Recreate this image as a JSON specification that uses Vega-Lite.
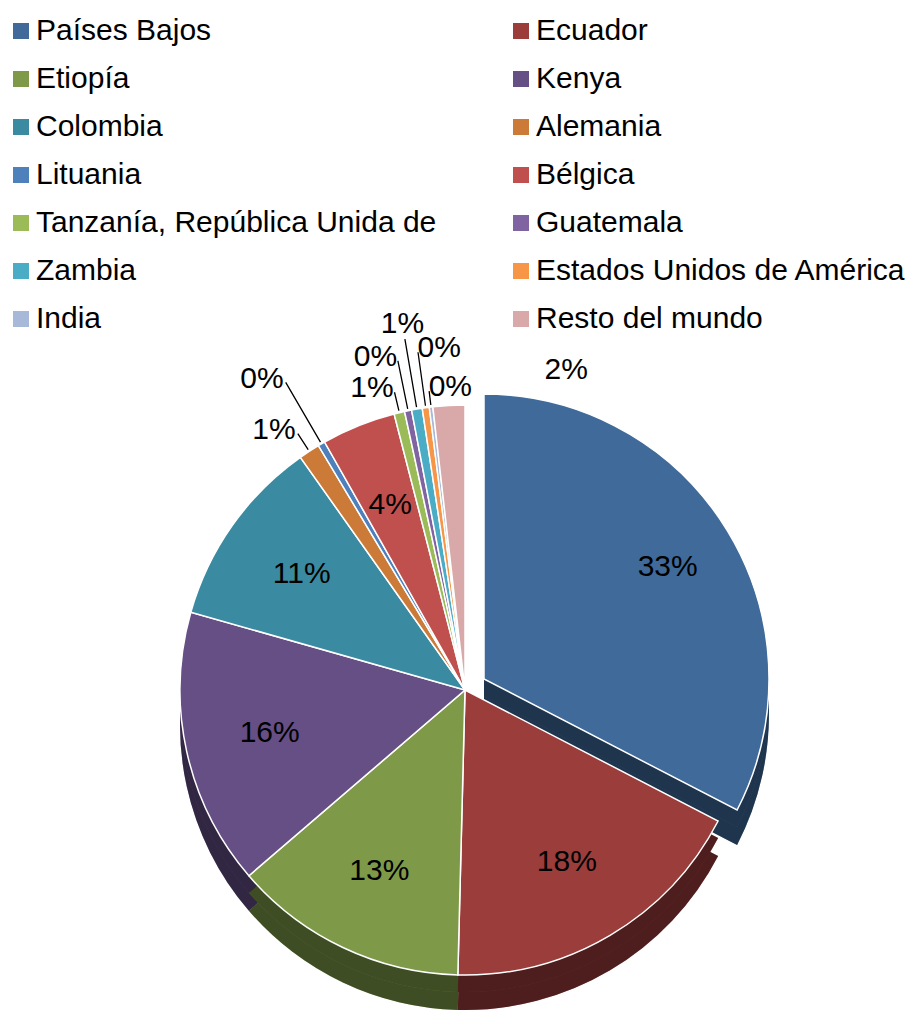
{
  "$schema": "https://vega.github.io/schema/vega-lite/v6.json",
  "width": 917,
  "height": 1017,
  "autosize": "none",
  "padding": 0,
  "background": "white",
  "config": {"view": {"stroke": null}, "font": "Liberation Sans"},
  "data": {
    "values": [
      {"country": "Países Bajos", "value": 32.6, "label": "33%"},
      {"country": "Ecuador", "value": 17.8, "label": "18%"},
      {"country": "Etiopía", "value": 13.3, "label": "13%"},
      {"country": "Kenya", "value": 15.7, "label": "16%"},
      {"country": "Colombia", "value": 10.8, "label": "11%"},
      {"country": "Alemania", "value": 1.2, "label": "1%"},
      {"country": "Lituania", "value": 0.4, "label": "0%"},
      {"country": "Bélgica", "value": 4.2, "label": "4%"},
      {"country": "Tanzanía, República Unida de", "value": 0.6, "label": "1%"},
      {"country": "Guatemala", "value": 0.4, "label": "0%"},
      {"country": "Zambia", "value": 0.6, "label": "1%"},
      {"country": "Estados Unidos de América", "value": 0.4, "label": "0%"},
      {"country": "India", "value": 0.2, "label": "0%"},
      {"country": "Resto del mundo", "value": 1.8, "label": "2%"}
    ]
  },
  "transform": [{"window": [{"op": "row_number", "as": "rank"}]}],
  "layer": [
    {
      "mark": {"type": "arc", "x": 484, "y": 714, "radius": 285},
      "encoding": {
        "theta": {"field": "value", "type": "quantitative", "stack": true},
        "order": {"field": "rank", "type": "quantitative"},
        "color": {
          "field": "country", "type": "nominal",
          "scale": {
            "domain": ["Países Bajos", "Ecuador", "Etiopía", "Kenya", "Colombia", "Alemania", "Lituania", "Bélgica", "Tanzanía, República Unida de", "Guatemala", "Zambia", "Estados Unidos de América", "India", "Resto del mundo"],
            "range": ["#3F6A9A", "#9B3D3B", "#7E9A48", "#654F85", "#3A8BA1", "#CC7A38", "#4E80BC", "#C0504D", "#9BBB59", "#8064A2", "#4BACC6", "#F79646", "#A7B8D8", "#D9A8A8"]
          },
          "legend": {
            "title": null, "orient": "none", "legendX": 6, "legendY": 16, "columns": 2, "direction": "horizontal",
            "symbolType": "square", "symbolSize": 256, "symbolStrokeWidth": 0, "symbolOpacity": 1,
            "labelFont": "Liberation Sans", "labelFontSize": 30, "labelColor": "black", "labelLimit": 600,
            "labelOffset": 0, "rowPadding": 18, "columnPadding": 69, "padding": 0
          }
        },
        "opacity": {"condition": {"test": "datum.country == 'Países Bajos'", "value": 1}, "value": 0}
      }
    },
    {
      "mark": {"type": "arc", "x": 484, "y": 714, "radius": 285, "fill": "black", "fillOpacity": 0.5},
      "encoding": {
        "theta": {"field": "value", "type": "quantitative", "stack": true},
        "order": {"field": "rank", "type": "quantitative"},
        "detail": {"field": "country"},
        "opacity": {"condition": {"test": "datum.country == 'Países Bajos'", "value": 1}, "value": 0}
      }
    },
    {
      "mark": {"type": "arc", "x": 484, "y": 696, "radius": 285},
      "encoding": {
        "theta": {"field": "value", "type": "quantitative", "stack": true},
        "order": {"field": "rank", "type": "quantitative"},
        "color": {"field": "country", "type": "nominal"},
        "opacity": {"condition": {"test": "datum.country == 'Países Bajos'", "value": 1}, "value": 0}
      }
    },
    {
      "mark": {"type": "arc", "x": 484, "y": 696, "radius": 285, "fill": "black", "fillOpacity": 0.5},
      "encoding": {
        "theta": {"field": "value", "type": "quantitative", "stack": true},
        "order": {"field": "rank", "type": "quantitative"},
        "detail": {"field": "country"},
        "opacity": {"condition": {"test": "datum.country == 'Países Bajos'", "value": 1}, "value": 0}
      }
    },
    {
      "mark": {"type": "arc", "x": 484, "y": 679, "radius": 285, "stroke": "white", "strokeWidth": 1.5},
      "encoding": {
        "theta": {"field": "value", "type": "quantitative", "stack": true},
        "order": {"field": "rank", "type": "quantitative"},
        "color": {"field": "country", "type": "nominal"},
        "opacity": {"condition": {"test": "datum.country == 'Países Bajos'", "value": 1}, "value": 0}
      }
    },
    {
      "mark": {"type": "arc", "x": 465, "y": 725, "radius": 285},
      "encoding": {
        "theta": {"field": "value", "type": "quantitative", "stack": true},
        "order": {"field": "rank", "type": "quantitative"},
        "color": {"field": "country", "type": "nominal"},
        "opacity": {"condition": {"test": "datum.country == 'Países Bajos'", "value": 0}, "value": 1}
      }
    },
    {
      "mark": {"type": "arc", "x": 465, "y": 725, "radius": 285, "fill": "black", "fillOpacity": 0.5},
      "encoding": {
        "theta": {"field": "value", "type": "quantitative", "stack": true},
        "order": {"field": "rank", "type": "quantitative"},
        "detail": {"field": "country"},
        "opacity": {"condition": {"test": "datum.country == 'Países Bajos'", "value": 0}, "value": 1}
      }
    },
    {
      "mark": {"type": "arc", "x": 465, "y": 707, "radius": 285},
      "encoding": {
        "theta": {"field": "value", "type": "quantitative", "stack": true},
        "order": {"field": "rank", "type": "quantitative"},
        "color": {"field": "country", "type": "nominal"},
        "opacity": {"condition": {"test": "datum.country == 'Países Bajos'", "value": 0}, "value": 1}
      }
    },
    {
      "mark": {"type": "arc", "x": 465, "y": 707, "radius": 285, "fill": "black", "fillOpacity": 0.5},
      "encoding": {
        "theta": {"field": "value", "type": "quantitative", "stack": true},
        "order": {"field": "rank", "type": "quantitative"},
        "detail": {"field": "country"},
        "opacity": {"condition": {"test": "datum.country == 'Países Bajos'", "value": 0}, "value": 1}
      }
    },
    {
      "mark": {"type": "arc", "x": 465, "y": 690, "radius": 285, "stroke": "white", "strokeWidth": 1.5},
      "encoding": {
        "theta": {"field": "value", "type": "quantitative", "stack": true},
        "order": {"field": "rank", "type": "quantitative"},
        "color": {"field": "country", "type": "nominal"},
        "opacity": {"condition": {"test": "datum.country == 'Países Bajos'", "value": 0}, "value": 1}
      }
    },
    {
      "mark": {"type": "text", "x": 484, "y": 679, "radius": 215, "fontSize": 30, "font": "Liberation Sans", "color": "black"},
      "encoding": {
        "theta": {"field": "value", "type": "quantitative", "stack": true},
        "order": {"field": "rank", "type": "quantitative"},
        "detail": {"field": "country"},
        "text": {"condition": {"test": "datum.country == 'Países Bajos'", "field": "label"}, "value": ""}
      }
    },
    {
      "mark": {"type": "text", "x": 465, "y": 690, "radius": 200, "fontSize": 30, "font": "Liberation Sans", "color": "black"},
      "encoding": {
        "theta": {"field": "value", "type": "quantitative", "stack": true},
        "order": {"field": "rank", "type": "quantitative"},
        "detail": {"field": "country"},
        "text": {"condition": {"test": "datum.value >= 3 && datum.country != 'Países Bajos'", "field": "label"}, "value": ""}
      }
    },
    {
      "mark": {"type": "arc", "x": 465, "y": 690, "radius": 306, "radius2": 287, "padAngle": 0.4, "fillOpacity": 0, "stroke": "black", "strokeWidth": 1.3},
      "encoding": {
        "theta": {"field": "value", "type": "quantitative", "stack": true},
        "order": {"field": "rank", "type": "quantitative"},
        "detail": {"field": "country"},
        "strokeOpacity": {"condition": {"test": "indexof(['Alemania', 'Tanzanía, República Unida de'], datum.country) >= 0", "value": 1}, "value": 0}
      }
    },
    {
      "mark": {"type": "text", "x": 465, "y": 690, "radius": 310, "align": "right", "fontSize": 30, "font": "Liberation Sans", "color": "black"},
      "encoding": {
        "theta": {"field": "value", "type": "quantitative", "stack": true},
        "order": {"field": "rank", "type": "quantitative"},
        "detail": {"field": "country"},
        "text": {"condition": {"test": "indexof(['Alemania', 'Tanzanía, República Unida de'], datum.country) >= 0", "field": "label"}, "value": ""}
      }
    },
    {
      "mark": {"type": "arc", "x": 465, "y": 690, "radius": 356, "radius2": 287, "padAngle": 0.4, "fillOpacity": 0, "stroke": "black", "strokeWidth": 1.3},
      "encoding": {
        "theta": {"field": "value", "type": "quantitative", "stack": true},
        "order": {"field": "rank", "type": "quantitative"},
        "detail": {"field": "country"},
        "strokeOpacity": {"condition": {"test": "datum.country == 'Lituania'", "value": 1}, "value": 0}
      }
    },
    {
      "mark": {"type": "text", "x": 465, "y": 690, "radius": 360, "align": "right", "fontSize": 30, "font": "Liberation Sans", "color": "black"},
      "encoding": {
        "theta": {"field": "value", "type": "quantitative", "stack": true},
        "order": {"field": "rank", "type": "quantitative"},
        "detail": {"field": "country"},
        "text": {"condition": {"test": "datum.country == 'Lituania'", "field": "label"}, "value": ""}
      }
    },
    {
      "mark": {"type": "arc", "x": 465, "y": 690, "radius": 336, "radius2": 287, "padAngle": 0.4, "fillOpacity": 0, "stroke": "black", "strokeWidth": 1.3},
      "encoding": {
        "theta": {"field": "value", "type": "quantitative", "stack": true},
        "order": {"field": "rank", "type": "quantitative"},
        "detail": {"field": "country"},
        "strokeOpacity": {"condition": {"test": "datum.country == 'Guatemala'", "value": 1}, "value": 0}
      }
    },
    {
      "mark": {"type": "text", "x": 465, "y": 690, "radius": 340, "align": "right", "fontSize": 30, "font": "Liberation Sans", "color": "black"},
      "encoding": {
        "theta": {"field": "value", "type": "quantitative", "stack": true},
        "order": {"field": "rank", "type": "quantitative"},
        "detail": {"field": "country"},
        "text": {"condition": {"test": "datum.country == 'Guatemala'", "field": "label"}, "value": ""}
      }
    },
    {
      "mark": {"type": "arc", "x": 465, "y": 690, "radius": 356, "radius2": 287, "padAngle": 0.4, "fillOpacity": 0, "stroke": "black", "strokeWidth": 1.3},
      "encoding": {
        "theta": {"field": "value", "type": "quantitative", "stack": true},
        "order": {"field": "rank", "type": "quantitative"},
        "detail": {"field": "country"},
        "strokeOpacity": {"condition": {"test": "datum.country == 'Zambia'", "value": 1}, "value": 0}
      }
    },
    {
      "mark": {"type": "text", "x": 465, "y": 690, "radius": 371, "align": "center", "fontSize": 30, "font": "Liberation Sans", "color": "black"},
      "encoding": {
        "theta": {"field": "value", "type": "quantitative", "stack": true},
        "order": {"field": "rank", "type": "quantitative"},
        "detail": {"field": "country"},
        "text": {"condition": {"test": "datum.country == 'Zambia'", "field": "label"}, "value": ""}
      }
    },
    {
      "mark": {"type": "arc", "x": 465, "y": 690, "radius": 341, "radius2": 287, "padAngle": 0.4, "fillOpacity": 0, "stroke": "black", "strokeWidth": 1.3},
      "encoding": {
        "theta": {"field": "value", "type": "quantitative", "stack": true},
        "order": {"field": "rank", "type": "quantitative"},
        "detail": {"field": "country"},
        "strokeOpacity": {"condition": {"test": "datum.country == 'Estados Unidos de América'", "value": 1}, "value": 0}
      }
    },
    {
      "mark": {"type": "text", "x": 465, "y": 690, "radius": 345, "align": "left", "fontSize": 30, "font": "Liberation Sans", "color": "black"},
      "encoding": {
        "theta": {"field": "value", "type": "quantitative", "stack": true},
        "order": {"field": "rank", "type": "quantitative"},
        "detail": {"field": "country"},
        "text": {"condition": {"test": "datum.country == 'Estados Unidos de América'", "field": "label"}, "value": ""}
      }
    },
    {
      "mark": {"type": "arc", "x": 465, "y": 690, "radius": 301, "radius2": 287, "padAngle": 0.4, "fillOpacity": 0, "stroke": "black", "strokeWidth": 1.3},
      "encoding": {
        "theta": {"field": "value", "type": "quantitative", "stack": true},
        "order": {"field": "rank", "type": "quantitative"},
        "detail": {"field": "country"},
        "strokeOpacity": {"condition": {"test": "datum.country == 'India'", "value": 1}, "value": 0}
      }
    },
    {
      "mark": {"type": "text", "x": 465, "y": 690, "radius": 305, "align": "left", "fontSize": 30, "font": "Liberation Sans", "color": "black"},
      "encoding": {
        "theta": {"field": "value", "type": "quantitative", "stack": true},
        "order": {"field": "rank", "type": "quantitative"},
        "detail": {"field": "country"},
        "text": {"condition": {"test": "datum.country == 'India'", "field": "label"}, "value": ""}
      }
    },
    {
      "mark": {"type": "text", "x": 465, "y": 690, "radius": 330, "thetaOffset": 0.3, "align": "left", "fontSize": 30, "font": "Liberation Sans", "color": "black"},
      "encoding": {
        "theta": {"field": "value", "type": "quantitative", "stack": true},
        "order": {"field": "rank", "type": "quantitative"},
        "detail": {"field": "country"},
        "text": {"condition": {"test": "datum.country == 'Resto del mundo'", "field": "label"}, "value": ""}
      }
    }
  ]
}
